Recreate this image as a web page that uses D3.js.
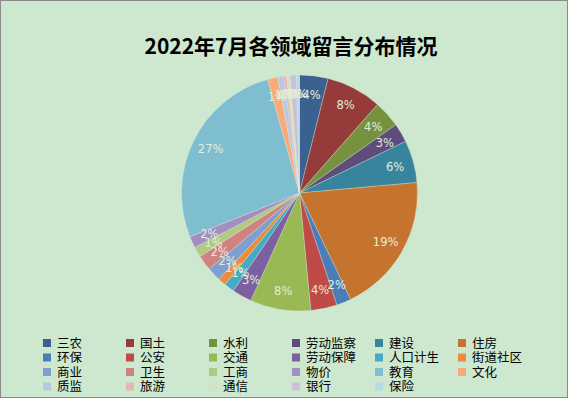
<!DOCTYPE html>
<html>
<head>
<meta charset="utf-8">
<script src="https://cdn.jsdelivr.net/npm/d3@7"></script>
<style>
  html, body { margin: 0; padding: 0; background: #fff; }
  svg { display: block; }
</style>
</head>
<body>
<script>
// categories in pie order (clockwise from 12 o'clock)
var categories = ["三农", "国土", "水利", "劳动监察", "建设", "住房",
                  "环保", "公安", "交通", "劳动保障", "人口计生", "街道社区",
                  "商业", "卫生", "工商", "物价", "教育", "文化",
                  "质监", "旅游", "通信", "银行", "保险"];

// share of messages (percent)
var shares = [3.9, 7.6, 3.7, 2.6, 5.8, 19.3,
              2.0, 3.6, 8.3, 2.7, 1.4, 1.1,
              1.9, 2.1, 1.4, 1.6, 26.7, 1.4,
              0.8, 0.4, 0.45, 0.9, 0.4];

var sliceColors = ["#3b6191", "#953b39", "#77923f", "#5f4b7c", "#37849c", "#c5742f",
                   "#4a7ebb", "#be4b48", "#98b954", "#7d60a0", "#46aac5", "#ec8b3c",
                   "#7f9fd0", "#d08280", "#b0ca84", "#a28fc0", "#7fbdd1", "#f9aa78",
                   "#b7c8e2", "#e4b7b6", "#d5e2bd", "#cbc0da", "#b6d9e4"];

var title = "2022年7月各领域留言分布情况";

var W = 568, H = 399;

var svg = d3.select("body").append("svg")
    .attr("width", W)
    .attr("height", H);

svg.append("rect")
    .attr("x", 0.5).attr("y", 0.5)
    .attr("width", W - 1).attr("height", H - 2)
    .attr("fill", "#cde8cf")
    .attr("stroke", "#8a8a8a")
    .attr("stroke-width", 1);

svg.append("text")
    .attr("x", 291)
    .attr("y", 54)
    .attr("text-anchor", "middle")
    .attr("font-family", "'Noto Sans CJK SC', sans-serif")
    .attr("font-weight", "bold")
    .attr("font-size", 21)
    .attr("fill", "#000")
    .text(title);

// pie
var cx = 299.5, cy = 193, R = 118;
var total = d3.sum(shares);

var pie = d3.pie().sort(null).value(d => d);
var arcs = pie(shares);

var arc = d3.arc().innerRadius(0).outerRadius(R);
var labelArc = d3.arc().innerRadius(R * 0.84).outerRadius(R * 0.84);

var g = svg.append("g").attr("transform", "translate(" + cx + "," + cy + ")");

g.selectAll("path.slice")
    .data(arcs)
    .enter()
    .append("path")
    .attr("class", "slice")
    .attr("d", arc)
    .attr("fill", (d, i) => sliceColors[i])
    .attr("stroke", "rgba(230,240,225,0.6)")
    .attr("stroke-width", 0.5);

g.selectAll("text.pct")
    .data(arcs)
    .enter()
    .append("text")
    .attr("class", "pct")
    .attr("transform", d => "translate(" + labelArc.centroid(d) + ")")
    .attr("text-anchor", "middle")
    .attr("dy", "0.35em")
    .attr("font-family", "'DejaVu Sans', sans-serif")
    .attr("font-size", 11.5)
    .attr("fill", "#e3eed8")
    .text(d => Math.round(d.value / total * 100) + "%");

// legend: 6 columns
var colX = d3.scaleLinear().domain([0, 1]).range([43, 126]);
var rowY = d3.scaleLinear().domain([0, 1]).range([343, 357.5]);

var leg = svg.selectAll("g.leg")
    .data(categories)
    .enter()
    .append("g")
    .attr("class", "leg")
    .attr("transform", (d, i) => "translate(" + colX(i % 6) + "," + rowY(Math.floor(i / 6)) + ")");

leg.append("rect")
    .attr("x", 0).attr("y", -4)
    .attr("width", 8).attr("height", 8)
    .attr("fill", (d, i) => sliceColors[i]);

leg.append("text")
    .attr("x", 14)
    .attr("dy", "0.38em")
    .attr("font-family", "'Noto Sans CJK SC', sans-serif")
    .attr("font-size", 12.5)
    .attr("fill", "#000")
    .text(d => d);
</script>
</body>
</html>
